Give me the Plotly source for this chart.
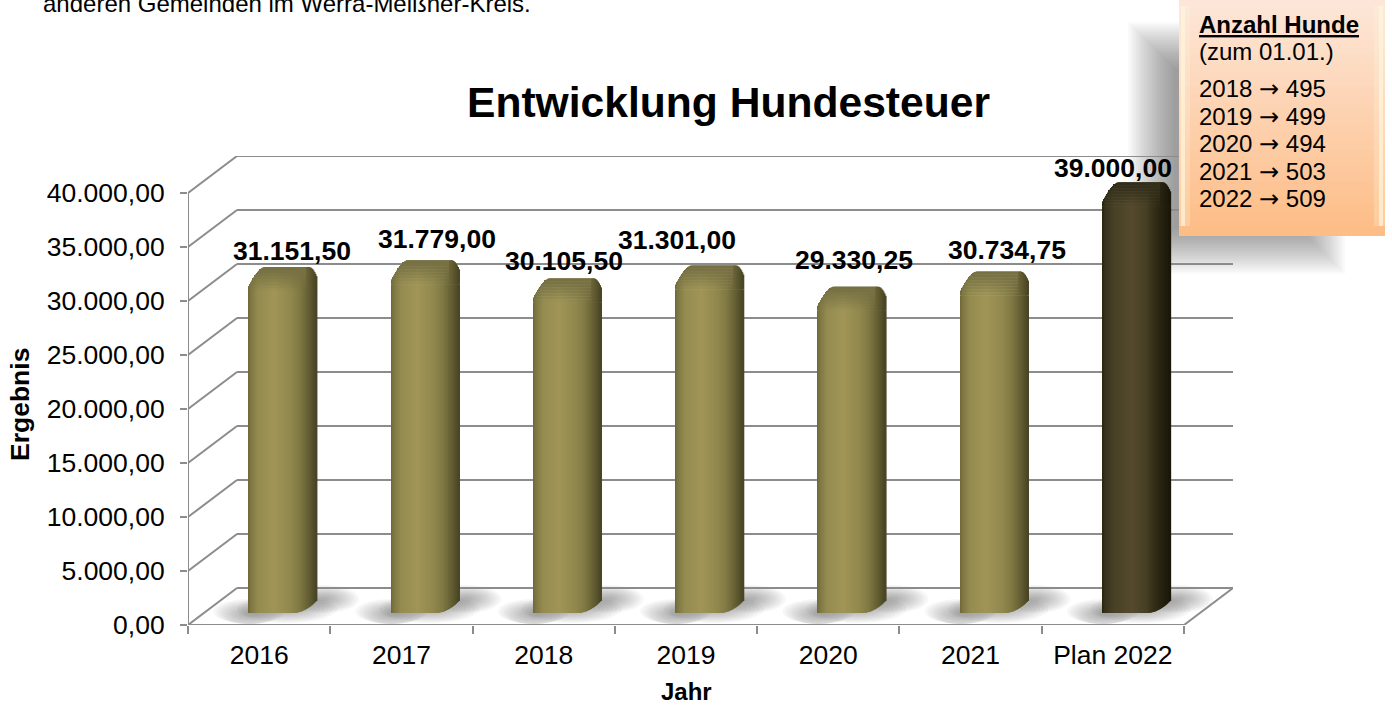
import plotly.graph_objects as go

# ---------- data ----------
categories = ["2016", "2017", "2018", "2019", "2020", "2021", "Plan 2022"]
values = [31151.50, 31779.00, 30105.50, 31301.00, 29330.25, 30734.75, 39000.00]
value_labels = ["31.151,50", "31.779,00", "30.105,50", "31.301,00", "29.330,25", "30.734,75", "39.000,00"]
y_ticks = [0, 5000, 10000, 15000, 20000, 25000, 30000, 35000, 40000]
y_tick_labels = ["0,00", "5.000,00", "10.000,00", "15.000,00", "20.000,00", "25.000,00", "30.000,00", "35.000,00", "40.000,00"]
note_years = ["2018", "2019", "2020", "2021", "2022"]
note_dogs = [495, 499, 494, 503, 509]

# ---------- layout calibration (pixels) ----------
W, H = 1392, 706
X0, X1 = 188.0, 1184.0        # front plane of x axis
Y0, Y40 = 625.0, 193.0        # value 0 and value 40000 on the front plane
DX, DY = 49.0, 37.0           # depth of the 3D box
CAT = (X1 - X0) / len(categories)
PY = (Y0 - Y40) / 40000.0     # pixels per unit


def ux(px):
    return px / CAT


def uy(px):
    return px / PY


x_range = [-0.5, len(categories) - 0.5 + ux(DX)]
y_range = [0, 40000 + uy(DY)]


def px_x(px):
    return px / W


def px_y(px):
    return 1 - px / H


def hexmix(a, b, t):
    t = max(0.0, min(1.0, t))
    ca = [int(a[i:i + 2], 16) for i in (1, 3, 5)]
    cb = [int(b[i:i + 2], 16) for i in (1, 3, 5)]
    return "#%02x%02x%02x" % tuple(round(p + (q - p) * t) for p, q in zip(ca, cb))


def ramp(stops, u):
    for (u0, c0), (u1, c1) in zip(stops, stops[1:]):
        if u <= u1:
            return hexmix(c0, c1, (u - u0) / (u1 - u0))
    return stops[-1][1]


GOLD = {
    "body": [(0, "#6e6836"), (3, "#7f7743"), (10, "#948b50"), (26, "#a09556"), (42, "#91884e"), (52, "#7f7842"),
             (57, "#6f6839"), (62, "#5e5930"), (68, "#474424")],
    "cap": "#767043",
}
DARK = {
    "body": [(0, "#26230f"), (3, "#37321c"), (12, "#484126"), (30, "#55492c"), (44, "#463f24"), (52, "#332e18"),
             (57, "#2a2612"), (62, "#221f0e"), (68, "#191609")],
    "cap": "#332e1a",
}

LEFT, FULL_W = -10.0, 68.0   # bar geometry relative to the category centre
LIFT, CAP = 12.0, 9.5        # bar base above floor, depth of the bar top
STEP = 1.0
FADE = 24.0


def top_drop(u):
    """How far the silhouette drops below the back top edge at offset u."""
    if u < 16:
        return 20 * (1 - u / 16) ** 1.6
    if u < 60:
        return 0
    return (u - 60) ** 2 * 0.16


def bottom_rise(u):
    if u <= 44:
        return 0
    return min((u - 44) ** 2 * 0.022, 12)


bx, bw, bbase, bh, bc = [], [], [], [], []


def add_strip(i, u, px_bottom, px_top, colour):
    bx.append(i + ux(LEFT + u + STEP / 2))
    bw.append(ux(STEP + 0.6))
    bbase.append(uy(px_bottom))
    bh.append(uy(px_top - px_bottom))
    bc.append(colour)


for i, val in enumerate(values):
    pal = DARK if i == len(values) - 1 else GOLD
    height = val * PY
    u = 0.0
    while u < FULL_W:
        mid = u + STEP / 2
        bottom = LIFT + bottom_rise(mid)
        top = LIFT + height + CAP - top_drop(mid)
        col = ramp(pal["body"], mid)
        edge = LIFT + height + CAP - FADE
        add_strip(i, u, bottom, max(edge, bottom + 1), col)
        if mid < 58:
            steps = 8
            for s in range(steps):
                p0 = edge + FADE * s / steps
                p1 = edge + FADE * (s + 1) / steps
                if p0 >= top:
                    break
                add_strip(i, u, p0, min(p1, top), hexmix(col, pal["cap"], (s + 0.5) / steps * 1.15))
        else:
            add_strip(i, u, edge, top, col)
        u += STEP

fig = go.Figure()
fig.add_trace(go.Bar(x=bx, y=bh, base=bbase, width=bw,
                     marker=dict(color=bc, line=dict(width=0)),
                     hoverinfo="skip", showlegend=False))

shapes = []

# soft shadow of the note box (drawn beneath the chart furniture)
for k in range(24):
    g = k * 2.0
    shapes.append(dict(type="path", xref="paper", yref="paper", layer="below",
                       path="M {a},{b} L {c},{b} L {c},{d} L {a},{d} Z".format(
                           a=px_x(1128 + g), c=px_x(1345 - g), b=px_y(274 - g), d=px_y(22 + g)),
                       fillcolor="rgba(70,70,70,0.026)", line=dict(width=0)))

GRID = "#8c8c8c"
line_style = dict(color=GRID, width=2)
xl, xr = x_range
xl_back = xl + ux(DX)
xr_front = xr - ux(DX)

# floor shadows of the bars
for i in range(len(values)):
    for k in range(11):
        s = 1 - k * 0.085
        for cx, cy, hw, hh in ((-10, 11, 36, 15), (64, 26, 36, 14), (28, 16, 50, 14)):
            shapes.append(dict(type="circle", xref="x", yref="y", layer="below",
                               x0=i + ux(cx - hw * s), x1=i + ux(cx + hw * s),
                               y0=uy(max(cy - hh * s, 1)), y1=uy(cy + hh * s),
                               fillcolor="rgba(50,50,50,0.04)", line=dict(width=0)))

for t in y_ticks:
    shapes.append(dict(type="line", xref="x", yref="y", layer="below", x0=xl_back, x1=xr,
                       y0=t + uy(DY), y1=t + uy(DY), line=line_style))
    shapes.append(dict(type="line", xref="x", yref="y", layer="below", x0=xl, x1=xl_back,
                       y0=t, y1=t + uy(DY), line=line_style))
shapes.append(dict(type="line", xref="x", yref="y", layer="below", x0=xl, x1=xl, y0=0, y1=40000, line=line_style))
shapes.append(dict(type="line", xref="x", yref="y", layer="below", x0=xr_front, x1=xr, y0=0, y1=uy(DY), line=line_style))
shapes.append(dict(type="line", xref="x", yref="y", layer="below", x0=xl, x1=xr_front, y0=0, y1=0, line=line_style))

# note box
BX0, BX1, BY1 = 1179.0, 1385.0, 236.0
N = 30
for k in range(N):
    t = k / (N - 1)
    y0 = BY1 * k / N
    y1 = BY1 * (k + 1) / N + 1
    shapes.append(dict(type="rect", xref="paper", yref="paper", layer="above",
                       x0=px_x(BX0), x1=px_x(BX1), y0=px_y(min(y1, BY1)), y1=px_y(y0),
                       fillcolor=hexmix("#fde6d8", "#fdbd86", t), line=dict(width=0)))
for a, b, alpha in ((BX0 + 2, BX0 + 6, 0.65), (BX0, BX0 + 11, 0.25), (BX1 - 6, BX1 - 2, 0.65), (BX1 - 11, BX1, 0.25)):
    shapes.append(dict(type="rect", xref="paper", yref="paper", layer="above",
                       x0=px_x(a), x1=px_x(b), y0=px_y(BY1 - 10), y1=px_y(6),
                       fillcolor=f"rgba(255,248,225,{alpha})", line=dict(width=0)))

FONT = "Liberation Sans, Arial, sans-serif"
ann = []


def page_text(text, x, y, size, bold=False, anchor="left", angle=0):
    ann.append(dict(text=f"<b>{text}</b>" if bold else text, xref="paper", yref="paper",
                    x=px_x(x), y=px_y(y), xanchor=anchor, yanchor="middle", showarrow=False,
                    textangle=angle, font=dict(family=FONT, size=size, color="#000000")))


page_text("Entwicklung Hundesteuer", 729, 102, 42.6, bold=True, anchor="center")
page_text("Ergebnis", 20, 405, 26.5, bold=True, anchor="center", angle=-90)
page_text("Jahr", 686, 691, 24, bold=True, anchor="center")
page_text("anderen Gemeinden im Werra-Meißner-Kreis.", 41, 4, 24)

# value labels, tied to the data points
label_dx = [33, 36, 20, -9, 26, 36, 0]
label_dy = [38, 43, 39, 47, 48, 43, 36]
for i, (val, lab) in enumerate(zip(values, value_labels)):
    ann.append(dict(text=f"<b>{lab}</b>", xref="x", yref="y", x=i, y=val, xshift=label_dx[i], yshift=label_dy[i],
                    xanchor="center", yanchor="middle", showarrow=False,
                    font=dict(family=FONT, size=26.5, color="#000000")))

# note box text
page_text("<u>Anzahl Hunde</u>", 1197, 24, 24, bold=True)
page_text("(zum 01.01.)", 1197, 52, 24)
ARROW = '<span style="font-family:DejaVu Sans">→</span>'
for k, (yr, n) in enumerate(zip(note_years, note_dogs)):
    page_text(f"{yr} {ARROW} {n}", 1197, 89 + k * 27.5, 24)

fig.update_layout(
    width=W, height=H, autosize=False,
    margin=dict(l=0, r=0, t=0, b=0, pad=0, autoexpand=False),
    paper_bgcolor="#ffffff", plot_bgcolor="rgba(0,0,0,0)",
    barmode="overlay", showlegend=False,
    font=dict(family=FONT, size=26.5, color="#000000"),
    shapes=shapes, annotations=ann,
    xaxis=dict(domain=[px_x(X0), px_x(X1 + DX)], range=x_range, showgrid=False, zeroline=False, automargin=False,
               showline=False, tickmode="array", tickvals=list(range(len(categories))), ticktext=categories,
               ticks="", ticklabelstandoff=11, tickfont=dict(family=FONT, size=26.5),
               minor=dict(tickmode="array", tickvals=[i - 0.5 for i in range(len(categories) + 1)],
                          ticks="outside", ticklen=8, tickwidth=2, tickcolor=GRID, showgrid=False)),
    yaxis=dict(domain=[px_y(Y0), px_y(Y40 - DY)], range=y_range, showgrid=False, zeroline=False, automargin=False,
               showline=False, tickmode="array", tickvals=y_ticks, ticktext=y_tick_labels,
               ticks="outside", ticklen=7, tickwidth=2, tickcolor=GRID,
               ticklabelstandoff=10, tickfont=dict(family=FONT, size=26.5)),
)

fig.write_html("out.html", config={"displayModeBar": False},
               post_script="document.body.style.margin='0';document.body.style.overflow='hidden';")
